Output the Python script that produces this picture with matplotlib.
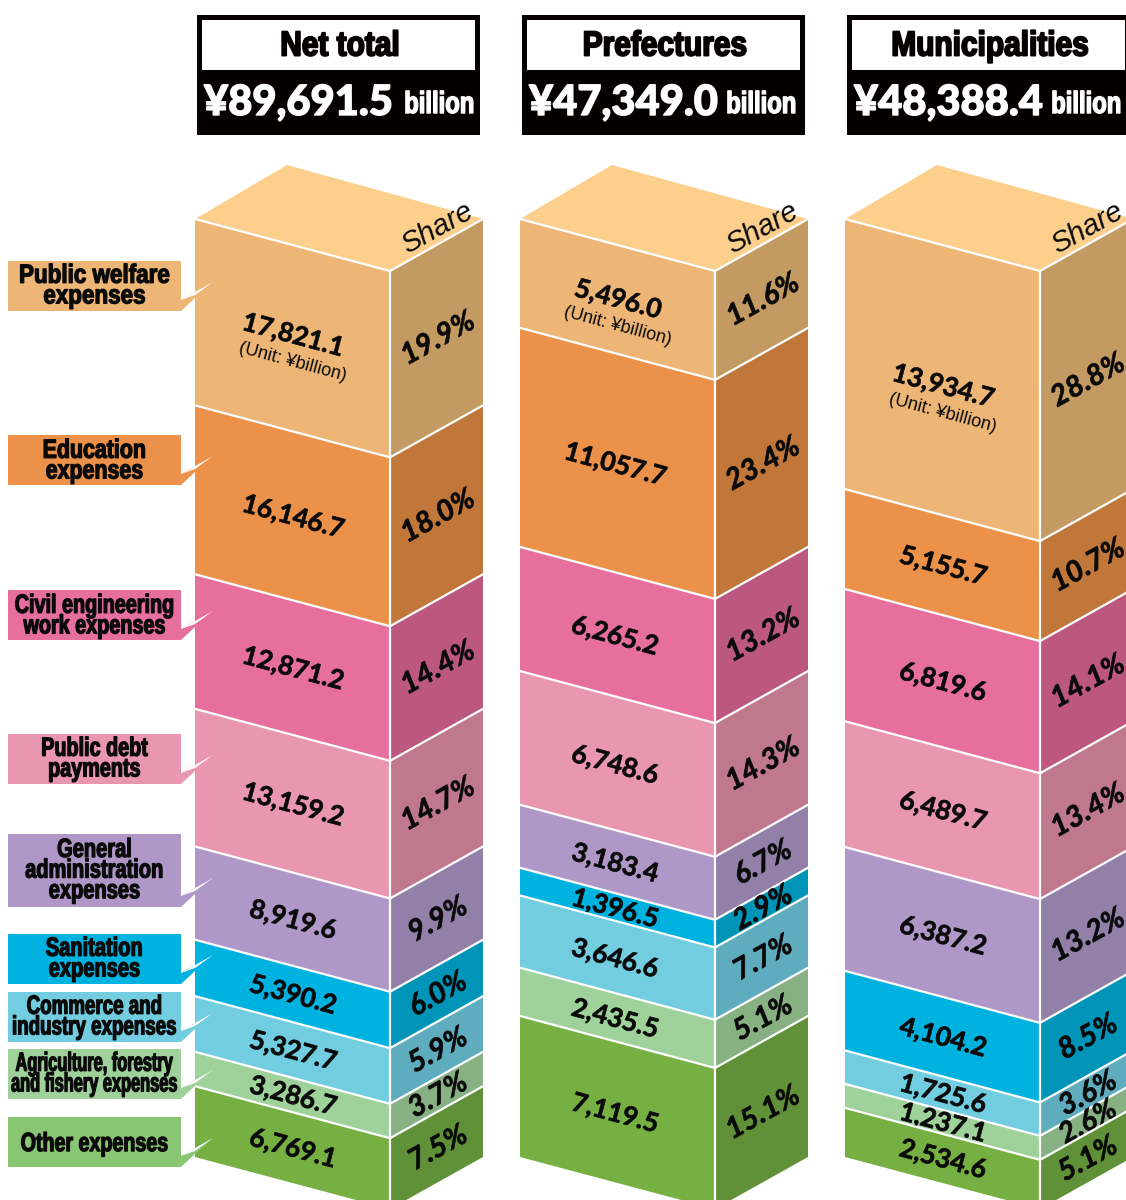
import matplotlib
matplotlib.use("Agg")
import matplotlib.pyplot as plt
from matplotlib.patches import Polygon, Rectangle
from matplotlib.transforms import Affine2D
import matplotlib.patheffects as pe

# ---------- data ----------
categories = ["Public welfare\nexpenses", "Education\nexpenses", "Civil engineering\nwork expenses",
              "Public debt\npayments", "General\nadministration\nexpenses", "Sanitation\nexpenses",
              "Commerce and\nindustry expenses", "Agriculture, forestry\nand fishery expenses", "Other expenses"]
column_names = ["Net total", "Prefectures", "Municipalities"]
column_totals = ["¥89,691.5", "¥47,349.0", "¥48,388.4"]
net_values = [17821.1, 16146.7, 12871.2, 13159.2, 8919.6, 5390.2, 5327.7, 3286.7, 6769.1]
pref_values = [5496.0, 11057.7, 6265.2, 6748.6, 3183.4, 1396.5, 3646.6, 2435.5, 7119.5]
muni_values = [13934.7, 5155.7, 6819.6, 6489.7, 6387.2, 4104.2, 1725.6, 1237.1, 2534.6]
net_shares = [19.9, 18.0, 14.4, 14.7, 9.9, 6.0, 5.9, 3.7, 7.5]
pref_shares = [11.6, 23.4, 13.2, 14.3, 6.7, 2.9, 7.7, 5.1, 15.1]
muni_shares = [28.8, 10.7, 14.1, 13.4, 13.2, 8.5, 3.6, 2.6, 5.1]

# ---------- style / layout ----------
front = ["#EDB676", "#EB914A", "#E76F9D", "#E996B0", "#AF98C8", "#00B2DF", "#72CDE1", "#9FD29B", "#76B043"]
side = ["#C49A63", "#C1763A", "#BC587F", "#C0788F", "#9380A8", "#0095B8", "#5FACBE", "#87B083", "#609138"]
boxc = ["#EDB676", "#EB914A", "#E76F9D", "#E996B0", "#AF98C8", "#00B2DF", "#72CDE1", "#9FD29B", "#88C673"]
top_color = "#FCCF8D"
box_tops = [261, 435, 590, 734, 834, 934, 992, 1049, 1117]
box_bots = [311, 485, 640, 784, 907, 984, 1042, 1099, 1167]
label_squeeze = [0.85, 0.81, 0.75, 0.75, 0.76, 0.76, 0.71, 0.62, 0.745]
label_dy = [1, 2, 2, 1, 1, 1, 1, 1, 3]
billion_dx = [0, -3, -3]
name_squeeze = 0.86
col_x = [195, 520, 845]
col_value_dx = [0, -3, 0]
front_w, side_w = 195, 93
y0, dy_f, dy_s = 219, 52, 52
col_h = 938
unit_shift = [-3, 0, 6]
SANS = "Liberation Sans"
GEO = ["Lato", "DejaVu Sans"]
INK = "#0A0A0A"


class Squeeze(pe.AbstractPathEffect):
    """Scale a text's outline about a data point, with a thickening stroke."""
    def __init__(self, axes, cx, cy, sx, sy=1.0, stroke=0.0, color=INK):
        super().__init__()
        self.a, self.cx, self.cy, self.sx, self.sy = axes, cx, cy, sx, sy
        self.stroke, self.color = stroke, color

    def draw_path(self, renderer, gc, tpath, affine, rgbFace=None):
        px, py = self.a.transData.transform((self.cx, self.cy))
        tr = affine + Affine2D().translate(-px, -py).scale(self.sx, self.sy).translate(px, py)
        g = renderer.new_gc()
        g.copy_properties(gc)
        g.set_foreground(self.color)
        g.set_linewidth(self.stroke)
        g.set_joinstyle("round")
        renderer.draw_path(g, tpath, tr, rgbFace)
        g.restore()


fig = plt.figure(figsize=(11.26, 12), dpi=100)
ax = fig.add_axes([0, 0, 1, 1])
ax.set_xlim(0, 1126)
ax.set_ylim(1200, 0)
ax.axis("off")

values_all = [net_values, pref_values, muni_values]
shares_all = [net_shares, pref_shares, muni_shares]
z = 2
for c, x in enumerate(col_x):
    vals, shs = values_all[c], shares_all[c]
    total = sum(vals)
    xm, xr = x + front_w, x + front_w + side_w
    # header
    hx = x + 2
    ax.add_patch(Rectangle((hx, 15), 283, 120, fc="#040000", ec="none", zorder=z))
    ax.add_patch(Rectangle((hx + 5, 20), 273, 50, fc="white", ec="none", zorder=z + .1))
    ax.text(hx + 143, 46, column_names[c], family=SANS, weight="bold", fontsize=25, ha="center", va="center",
            color="#040000", zorder=z + .2,
            path_effects=[Squeeze(ax, hx + 143, 46, name_squeeze, stroke=1.4, color="#040000")])
    ax.text(hx + 7, 103, column_totals[c], family=GEO, weight="black", fontsize=30, ha="left", va="center",
            color="white", zorder=z + .2, path_effects=[Squeeze(ax, hx + 7, 103, 1.0, stroke=1.0, color="white")])
    bx = hx + 277 + billion_dx[c]
    ax.text(bx, 105, "billion", family=SANS, weight="bold", fontsize=22, ha="right", va="center",
            color="white", zorder=z + .2, path_effects=[Squeeze(ax, bx, 105, 0.78, stroke=1.0, color="white")])
    # top face
    ax.add_patch(Polygon([(x, y0), (x + 92, y0 - 54), (xr, y0), (xm, y0 + dy_f)], closed=True, fc=top_color, ec="none", zorder=z))
    ax.text(x + 242, 228, "Share", family=SANS, style="italic", fontsize=21, rotation=29,
            rotation_mode="anchor", ha="center", va="center", color=INK, zorder=z + .1)
    cum = 0.0
    for i, v in enumerate(vals):
        h = v / total * col_h
        t, b = y0 + cum, y0 + cum + h
        z += 1
        ax.add_patch(Polygon([(x, t), (xm, t + dy_f), (xm, b + dy_f), (x, b)], closed=True, fc=front[i], ec="none", zorder=z))
        ax.add_patch(Polygon([(xm, t + dy_f), (xr, t + dy_f - dy_s), (xr, b + dy_f - dy_s), (xm, b + dy_f)], closed=True, fc=side[i], ec="none", zorder=z))
        ax.plot([x, xm, xr], [t, t + dy_f, t], color="white", lw=1.6, zorder=z + .1, solid_joinstyle="miter")
        ax.plot([xm, xm], [t + dy_f, b + dy_f], color="white", lw=1.6, zorder=z + .1)
        cy = (t + b) / 2 + dy_f / 2
        vy = cy + (unit_shift[c] if i == 0 else 1)
        vx = x + 98 + (col_value_dx[c] if i else 0)
        ax.text(vx, vy, f"{v:,.1f}", family=GEO, weight="bold", fontsize=19, rotation=-15, rotation_mode="anchor",
                ha="center", va="center", color=INK, zorder=z + .5,
                path_effects=[Squeeze(ax, vx, vy, 1.0, stroke=0.5)])
        if i == 0:
            ax.text(x + 98, vy + 27, "(Unit: ¥billion)", family=SANS, fontsize=13, rotation=-15,
                    rotation_mode="anchor", ha="center", va="center", color=INK, zorder=z + .5)
        ax.text(x + 243, cy + 1, f"{shs[i]:.1f}%", family=GEO, weight="bold", style="italic", fontsize=21, rotation=29,
                rotation_mode="anchor", ha="center", va="center", color=INK, zorder=z + .5,
                path_effects=[Squeeze(ax, x + 243, cy + 1, 1.0, stroke=0.5)])
        cum += h
    z += 1

# category labels, above the first column
zl = z + 5
font_pt, target_pt = 14, 19
sy = target_pt / font_pt
for i, cat in enumerate(categories):
    t, b = box_tops[i], box_bots[i]
    ax.add_patch(Rectangle((8, t), 173, b - t, fc=boxc[i], ec="none", zorder=zl))
    ax.add_patch(Polygon([(181, b), (181, b - 11), (213, b - 29), (195, b - 13)], closed=True, fc=boxc[i], ec="none", zorder=zl))
    ax.add_patch(Polygon([(181, b - 11), (213, b - 29), (195, b - 16)], closed=True, fc="white", ec="none", zorder=zl + .1))
    my = (t + b) / 2 + label_dy[i]
    ax.text(94.5, my, cat, family=SANS, weight="bold", fontsize=font_pt, linespacing=0.86, ha="center", va="center",
            color=INK, zorder=zl + 1,
            path_effects=[Squeeze(ax, 94.5, my, label_squeeze[i] * sy, sy, stroke=0.9)])

fig.savefig("out.png", dpi=100, facecolor="white")
